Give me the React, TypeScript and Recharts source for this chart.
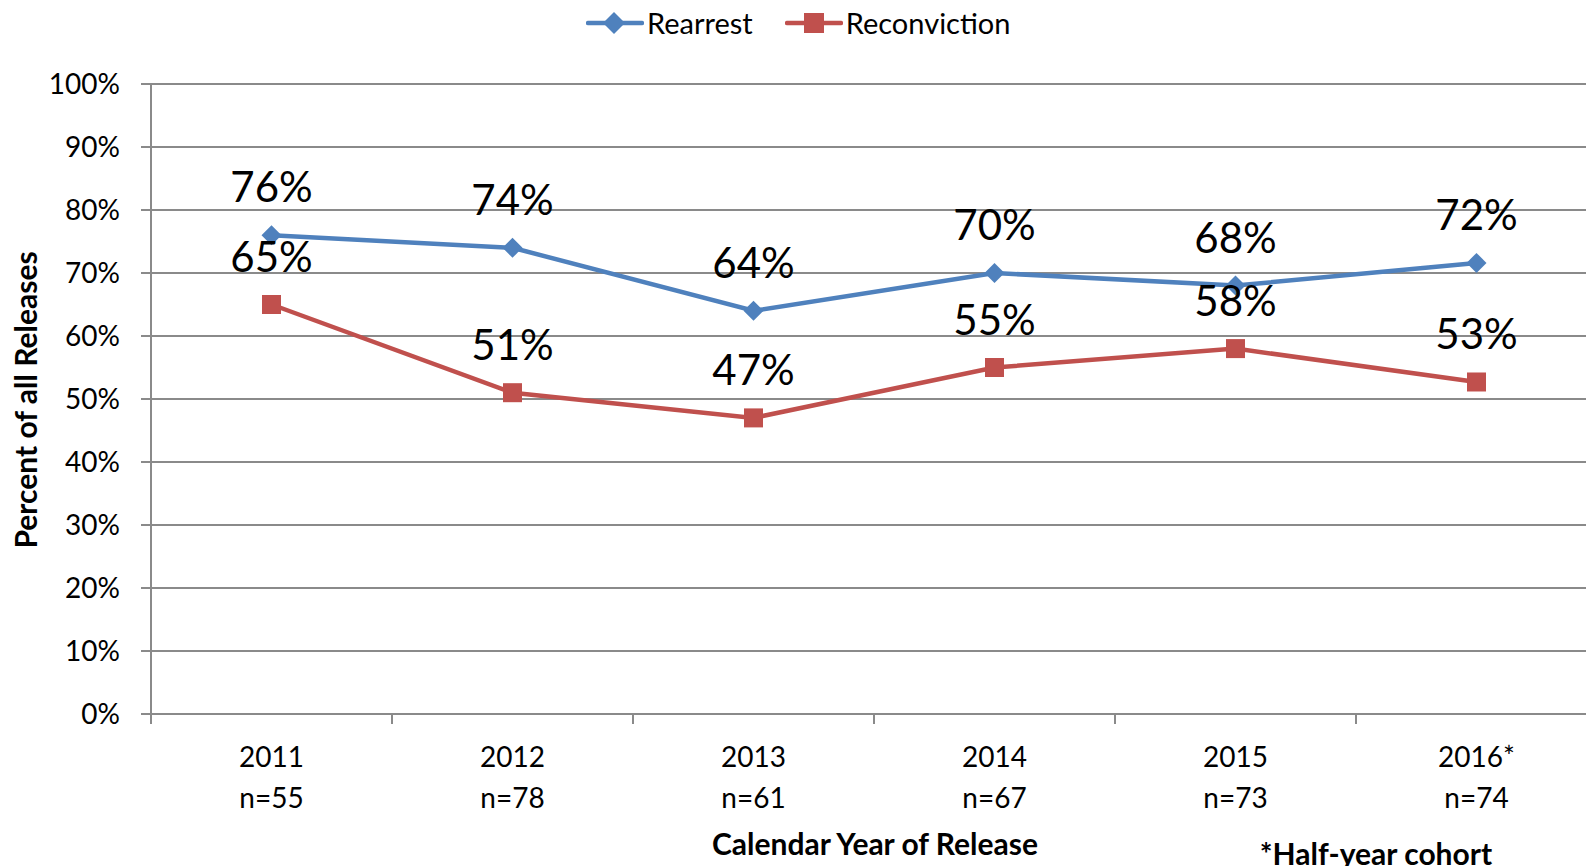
import { LineChart, Line, XAxis, YAxis, CartesianGrid, Legend, LabelList } from 'recharts';

// Release cohorts and outcome rates (percent of releases)
const YEARS = ['2011', '2012', '2013', '2014', '2015', '2016*'];
const COHORT_SIZES = ['n=55', 'n=78', 'n=61', 'n=67', 'n=73', 'n=74'];
const REARREST = [76, 74, 64, 70, 68, 71.6];
const RECONVICTION = [65, 51, 47, 55, 58, 52.7];
const Y_TICKS = [0, 10, 20, 30, 40, 50, 60, 70, 80, 90, 100];

const FONT = 'Lato, "Open Sans", sans-serif';
const BLUE = '#4F81BD';
const RED = '#C0504D';
const GRID = '#8A8A8A';

const data = YEARS.map((year, i) => ({
  year,
  rearrest: REARREST[i],
  reconviction: RECONVICTION[i],
}));

function YearTick(props: any) {
  const { x, y, payload, index } = props;
  const half = payload?.offset || 120.5;
  return (
    <g>
      <line x1={x - half} x2={x - half} y1={y} y2={y + 10} stroke={GRID} strokeWidth={2} />
      <text x={x} y={y + 53} textAnchor="middle" fontSize={28} fontFamily={FONT} fill="#000">
        {payload.value}
      </text>
      <text x={x} y={y + 94} textAnchor="middle" fontSize={28} fontFamily={FONT} fill="#000">
        {COHORT_SIZES[index]}
      </text>
    </g>
  );
}

function ValueLabel(props: any) {
  const { x, y, value } = props;
  return (
    <text x={x} y={y - 33} textAnchor="middle" fontSize={42} fontFamily={FONT} fill="#000">
      {Math.round(Number(value))}%
    </text>
  );
}

function Diamond(props: any) {
  const { cx, cy, index } = props;
  return (
    <path
      key={`d-${index}`}
      d={`M${cx},${cy - 10} L${cx + 10},${cy} L${cx},${cy + 10} L${cx - 10},${cy} Z`}
      fill={BLUE}
    />
  );
}

function Square(props: any) {
  const { cx, cy, index } = props;
  return <rect key={`s-${index}`} x={cx - 9.5} y={cy - 9.5} width={19} height={19} fill={RED} />;
}

function LegendBox() {
  const item = (color: string, marker: 'diamond' | 'square', text: string) => (
    <div style={{ display: 'flex', alignItems: 'center' }}>
      <svg width={58} height={24}>
        <line x1={2} x2={56} y1={12} y2={12} stroke={color} strokeWidth={4.5} strokeLinecap="round" />
        {marker === 'diamond' ? (
          <path d="M28,1 L39,12 L28,23 L17,12 Z" fill={color} />
        ) : (
          <rect x={19} y={2} width={20} height={20} fill={color} />
        )}
      </svg>
      <span style={{ fontSize: 29, marginLeft: 3 }}>{text}</span>
    </div>
  );
  return (
    <div
      style={{
        position: 'absolute',
        left: 586,
        top: 5,
        display: 'flex',
        gap: 32,
        fontFamily: FONT,
        color: '#000',
        lineHeight: '36px',
      }}
    >
      {item(BLUE, 'diamond', 'Rearrest')}
      {item(RED, 'square', 'Reconviction')}
    </div>
  );
}

const titleStyle = {
  position: 'absolute' as const,
  whiteSpace: 'nowrap' as const,
  fontSize: 30,
  fontWeight: 700,
  color: '#000',
};

export default function App() {
  return (
    <div
      style={{
        position: 'absolute',
        left: 0,
        top: 0,
        width: 1586,
        height: 866,
        overflow: 'hidden',
        background: '#fff',
        fontFamily: FONT,
      }}
    >
      <LineChart width={1600} height={866} data={data} margin={{ top: 84, right: 3, left: 0, bottom: 0 }}>
        <CartesianGrid vertical={false} stroke={GRID} strokeWidth={2} />
        <XAxis
          dataKey="year"
          scale="band"
          height={152}
          interval={0}
          tickLine={false}
          tickSize={0}
          tickMargin={0}
          axisLine={{ stroke: GRID, strokeWidth: 2 }}
          tick={<YearTick />}
        />
        <YAxis
          width={151}
          domain={[0, 100]}
          ticks={Y_TICKS}
          interval={0}
          tickSize={10}
          tickMargin={21}
          tickFormatter={(v: number) => `${v}%`}
          tick={{ fontSize: 28, fill: '#000', fontFamily: FONT }}
          tickLine={{ stroke: GRID, strokeWidth: 2 }}
          axisLine={{ stroke: GRID, strokeWidth: 2 }}
        />
        <Legend content={() => null} />
        <Line
          dataKey="rearrest"
          stroke={BLUE}
          strokeWidth={4.5}
          dot={<Diamond />}
          activeDot={false}
          isAnimationActive={false}
        >
          <LabelList dataKey="rearrest" content={<ValueLabel />} />
        </Line>
        <Line
          dataKey="reconviction"
          stroke={RED}
          strokeWidth={4.5}
          dot={<Square />}
          activeDot={false}
          isAnimationActive={false}
        >
          <LabelList dataKey="reconviction" content={<ValueLabel />} />
        </Line>
      </LineChart>

      <LegendBox />

      <div style={{ ...titleStyle, left: 25, top: 400, transform: 'translate(-50%, -50%) rotate(-90deg)' }}>
        Percent of all Releases
      </div>
      <div style={{ ...titleStyle, left: 875, top: 843, transform: 'translate(-50%, -50%)' }}>
        Calendar Year of Release
      </div>
      <div style={{ ...titleStyle, left: 1376, top: 853, transform: 'translate(-50%, -50%)' }}>
        *Half-year cohort
      </div>
    </div>
  );
}
